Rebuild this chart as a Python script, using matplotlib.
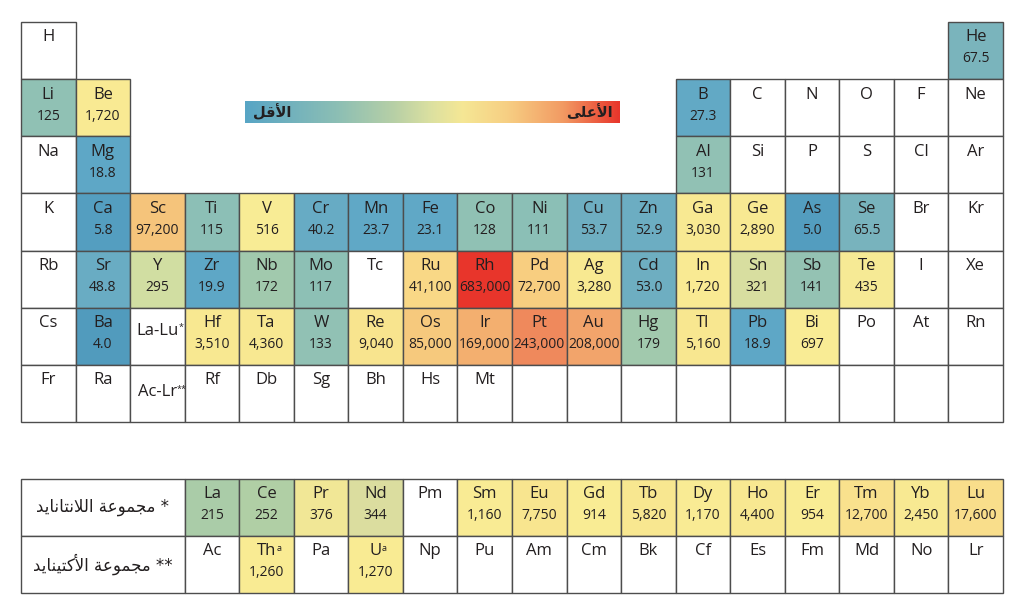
import matplotlib
matplotlib.use('Agg')
import matplotlib.pyplot as plt
import numpy as np
from matplotlib.colors import LinearSegmentedColormap
from matplotlib.patches import Rectangle

# جدول دوري: None = لا توجد خلية، '' = خلية فارغة
periods = [
    ['H'] + [None] * 16 + ['He'],
    ['Li', 'Be'] + [None] * 10 + ['B', 'C', 'N', 'O', 'F', 'Ne'],
    ['Na', 'Mg'] + [None] * 10 + ['Al', 'Si', 'P', 'S', 'Cl', 'Ar'],
    ['K', 'Ca', 'Sc', 'Ti', 'V', 'Cr', 'Mn', 'Fe', 'Co', 'Ni', 'Cu', 'Zn', 'Ga', 'Ge', 'As', 'Se', 'Br', 'Kr'],
    ['Rb', 'Sr', 'Y', 'Zr', 'Nb', 'Mo', 'Tc', 'Ru', 'Rh', 'Pd', 'Ag', 'Cd', 'In', 'Sn', 'Sb', 'Te', 'I', 'Xe'],
    ['Cs', 'Ba', 'La-Lu', 'Hf', 'Ta', 'W', 'Re', 'Os', 'Ir', 'Pt', 'Au', 'Hg', 'Tl', 'Pb', 'Bi', 'Po', 'At', 'Rn'],
    ['Fr', 'Ra', 'Ac-Lr', 'Rf', 'Db', 'Sg', 'Bh', 'Hs', 'Mt'] + [''] * 9,
]
lanthanides = ['La', 'Ce', 'Pr', 'Nd', 'Pm', 'Sm', 'Eu', 'Gd', 'Tb', 'Dy', 'Ho', 'Er', 'Tm', 'Yb', 'Lu']
actinides = ['Ac', 'Th', 'Pa', 'U', 'Np', 'Pu', 'Am', 'Cm', 'Bk', 'Cf', 'Es', 'Fm', 'Md', 'No', 'Lr']
series_labels = ['* مجموعة اللانتانايد', '** مجموعة الأكتينايد']

values = {
    'He': 67.5, 'Li': 125, 'Be': 1720, 'B': 27.3, 'Mg': 18.8, 'Al': 131,
    'Ca': 5.8, 'Sc': 97200, 'Ti': 115, 'V': 516, 'Cr': 40.2, 'Mn': 23.7, 'Fe': 23.1,
    'Co': 128, 'Ni': 111, 'Cu': 53.7, 'Zn': 52.9, 'Ga': 3030, 'Ge': 2890, 'As': 5.0, 'Se': 65.5,
    'Sr': 48.8, 'Y': 295, 'Zr': 19.9, 'Nb': 172, 'Mo': 117, 'Ru': 41100, 'Rh': 683000,
    'Pd': 72700, 'Ag': 3280, 'Cd': 53.0, 'In': 1720, 'Sn': 321, 'Sb': 141, 'Te': 435,
    'Ba': 4.0, 'Hf': 3510, 'Ta': 4360, 'W': 133, 'Re': 9040, 'Os': 85000, 'Ir': 169000,
    'Pt': 243000, 'Au': 208000, 'Hg': 179, 'Tl': 5160, 'Pb': 18.9, 'Bi': 697,
    'La': 215, 'Ce': 252, 'Pr': 376, 'Nd': 344, 'Sm': 1160, 'Eu': 7750, 'Gd': 914,
    'Tb': 5820, 'Dy': 1170, 'Ho': 4400, 'Er': 954, 'Tm': 12700, 'Yb': 2450, 'Lu': 17600,
    'Th': 1260, 'U': 1270,
}
superscripts = {'La-Lu': '*', 'Ac-Lr': '**', 'Th': 'a', 'U': 'a'}
bar_low, bar_high = 'الأقل', 'الأعلى'

# أشكال الحروف العربية (معزول، نهائي، ابتدائي، وسطي)
AR_FORMS = {
    'ا': ('\ufe8d', '\ufe8e'), 'أ': ('\ufe83', '\ufe84'), 'ى': ('\ufeef', '\ufef0'),
    'و': ('\ufeed', '\ufeee'), 'ة': ('\ufe93', '\ufe94'), 'د': ('\ufea9', '\ufeaa'),
    'ل': ('\ufedd', '\ufede', '\ufedf', '\ufee0'), 'ق': ('\ufed5', '\ufed6', '\ufed7', '\ufed8'),
    'ع': ('\ufec9', '\ufeca', '\ufecb', '\ufecc'), 'م': ('\ufee1', '\ufee2', '\ufee3', '\ufee4'),
    'ج': ('\ufe9d', '\ufe9e', '\ufe9f', '\ufea0'), 'ن': ('\ufee5', '\ufee6', '\ufee7', '\ufee8'),
    'ت': ('\ufe95', '\ufe96', '\ufe97', '\ufe98'), 'ي': ('\ufef1', '\ufef2', '\ufef3', '\ufef4'),
    'ك': ('\ufed9', '\ufeda', '\ufedb', '\ufedc'),
    'لا': ('\ufefb', '\ufefc'), 'لأ': ('\ufef7', '\ufef8'),
}


def shape_arabic(text):
    units, i = [], 0
    while i < len(text):
        if text[i] == 'ل' and text[i + 1:i + 2] in ('ا', 'أ'):
            units.append(text[i:i + 2])
            i += 2
        else:
            units.append(text[i])
            i += 1
    out = []
    for k, u in enumerate(units):
        forms = AR_FORMS.get(u)
        if forms is None:
            out.append(u)
            continue
        prev = AR_FORMS.get(units[k - 1]) if k > 0 else None
        nxt = AR_FORMS.get(units[k + 1]) if k + 1 < len(units) else None
        join_prev = prev is not None and len(prev) == 4
        join_next = len(forms) == 4 and nxt is not None
        if join_prev and join_next:
            out.append(forms[3])
        elif join_prev:
            out.append(forms[1])
        elif join_next:
            out.append(forms[2])
        else:
            out.append(forms[0])
    return ''.join(reversed(out))


# تدرج ألوان الخلايا على مقياس لوغاريتمي
cell_cmap = LinearSegmentedColormap.from_list('cells', [
    (0.00, '#519bbd'), (0.13, '#58a3c4'), (0.24, '#5ea7c6'), (0.33, '#6aacc3'),
    (0.36, '#7ab4bc'), (0.40, '#8bbfb6'), (0.42, '#91c1b4'), (0.44, '#a2c9ad'),
    (0.46, '#b1cfa4'), (0.475, '#d2dfa2'), (0.488, '#dcdd9e'), (0.50, '#f5e995'),
    (0.53, '#f9ed95'), (0.70, '#f8e790'), (0.80, '#f9de8b'), (0.85, '#f9d987'),
    (0.90, '#f8cf80'), (0.93, '#f5c47b'), (0.97, '#f3ae6f'), (0.99, '#f1a06a'),
    (1.00, '#e8352b'),
])
node_logs = [0.60, 1.00, 1.30, 1.70, 1.82, 2.04, 2.12, 2.25, 2.40, 2.47, 2.54, 2.58,
             2.75, 3.80, 4.25, 4.60, 4.86, 5.00, 5.25, 5.38, 5.83]
node_pos = [0.00, 0.13, 0.24, 0.33, 0.36, 0.40, 0.42, 0.44, 0.46, 0.475, 0.488, 0.50,
            0.53, 0.70, 0.80, 0.85, 0.90, 0.93, 0.97, 0.99, 1.00]


def cell_color(v):
    return cell_cmap(np.interp(np.log10(v), node_logs, node_pos))


bar_cmap = LinearSegmentedColormap.from_list('bar', [
    (0.0, '#58a5c5'), (0.25, '#8dbfb4'), (0.40, '#b8d0a6'), (0.50, '#dde1a0'),
    (0.58, '#f5e795'), (0.70, '#f7cf83'), (0.85, '#f29a63'), (1.0, '#e8352b'),
])

edge = '#4d4d4d'
txt = '#231f20'
latin = ['Open Sans', 'DejaVu Sans']

fig = plt.figure(figsize=(10.24, 6.15), dpi=100)
W, H = 1024, 615


def draw_cell(ax, col, row, sym, span=1):
    v = values.get(sym)
    face = cell_color(v) if v is not None else 'white'
    ax.add_patch(Rectangle((col, row), span, 1, facecolor=face, edgecolor=edge,
                           linewidth=1.0, clip_on=False))
    if not sym:
        return
    if sym in ('La-Lu', 'Ac-Lr'):
        y = row + (0.40 if sym == 'La-Lu' else 0.48)
    else:
        y = row + 0.27
    t = ax.text(col + span / 2, y, sym, ha='center', va='center', fontsize=12,
                color=txt, family=latin)
    if sym in superscripts:
        ax.annotate(superscripts[sym], xy=(1.0, 0.95), xycoords=t, ha='left', va='top',
                    fontsize=6.5, color=txt, family=latin)
    if v is not None:
        label = f'{v:.1f}' if v < 100 else f'{v:,.0f}'
        ax.text(col + span / 2, row + 0.645, label, ha='center', va='center',
                fontsize=10, color=txt, family=latin)


ax = fig.add_axes([21 / W, 1 - 422 / H, 982 / W, 400 / H])
ax.set_xlim(0, 18)
ax.set_ylim(7, 0)
ax.axis('off')
for r, period in enumerate(periods):
    for c, sym in enumerate(period):
        if sym is not None:
            draw_cell(ax, c, r, sym)

ax2 = fig.add_axes([21 / W, 1 - 593 / H, 982 / W, 114 / H])
ax2.set_xlim(0, 18)
ax2.set_ylim(2, 0)
ax2.axis('off')
for r, (series, lab) in enumerate(zip([lanthanides, actinides], series_labels)):
    ax2.add_patch(Rectangle((0, r), 3, 1, facecolor='white', edgecolor=edge,
                            linewidth=1.0, clip_on=False))
    ax2.text(1.5, r + 0.5, shape_arabic(lab), ha='center', va='center', fontsize=12,
             color=txt, family='DejaVu Sans')
    for c, sym in enumerate(series):
        draw_cell(ax2, c + 3, r, sym)

cax = fig.add_axes([245 / W, 1 - 123 / H, 375 / W, 22 / H])
cax.imshow(np.linspace(0, 1, 256)[None, :], aspect='auto', cmap=bar_cmap,
           extent=[0, 1, 0, 1])
cax.set_xlim(0, 1)
cax.set_ylim(0, 1)
cax.axis('off')
cax.text(0.02, 0.5, shape_arabic(bar_low), ha='left', va='center', fontsize=10.5,
         fontweight='bold', color=txt, family='DejaVu Sans')
cax.text(0.98, 0.5, shape_arabic(bar_high), ha='right', va='center', fontsize=10.5,
         fontweight='bold', color=txt, family='DejaVu Sans')

plt.savefig('out.png', dpi=100)
